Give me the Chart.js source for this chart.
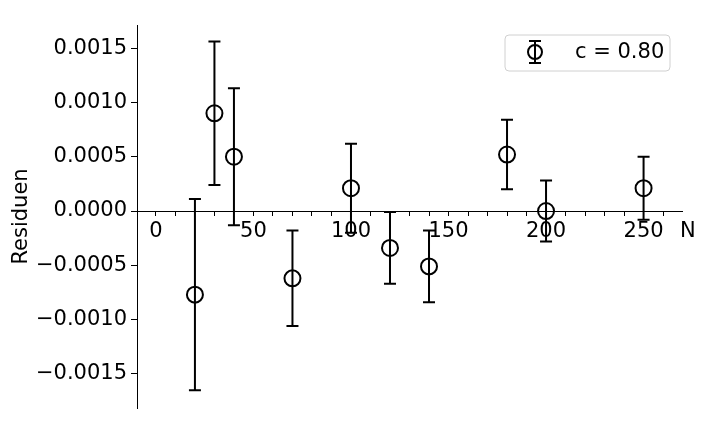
<!DOCTYPE html>
<html>
<head>
<meta charset="utf-8">
<script src="https://cdn.jsdelivr.net/npm/chart.js@4/dist/chart.umd.min.js"></script>
<style>
  body { margin: 0; background: #fff; }
</style>
</head>
<body>
<canvas id="chart" width="720" height="432"></canvas>
<script>
// values
var nValues   = [20, 30, 40, 70, 100, 120, 140, 180, 200, 250];
var residuals = [-0.00077, 0.00090, 0.00050, -0.00062, 0.00021, -0.00034, -0.00051, 0.00052, 0.00000, 0.00021];
var errors    = [0.00088, 0.00066, 0.00063, 0.00044, 0.00041, 0.00033, 0.00033, 0.00032, 0.00028, 0.00029];
var yTicks = [-0.0015, -0.0010, -0.0005, 0, 0.0005, 0.0010, 0.0015];
var xTicks = [0, 10, 20, 30, 40, 50, 60, 70, 80, 90, 100, 110, 120, 130, 140, 150,
              160, 170, 180, 190, 200, 210, 220, 230, 240, 250, 260];
var legendLabel = "c = 0.80";

var FONT = "DejaVu Sans";

var points = nValues.map(function(n, i) { return { x: n, y: residuals[i] }; });

var errorBars = {
  id: 'errorBars',
  afterDatasetsDraw: function(chart) {
    var ctx = chart.ctx;
    var xs = chart.scales.x, ys = chart.scales.y;
    ctx.save();
    ctx.strokeStyle = '#000';
    ctx.lineWidth = 2;
    for (var i = 0; i < nValues.length; i++) {
      var px = xs.getPixelForValue(nValues[i]);
      var top = ys.getPixelForValue(residuals[i] + errors[i]);
      var bot = ys.getPixelForValue(residuals[i] - errors[i]);
      ctx.beginPath();
      ctx.moveTo(px, top); ctx.lineTo(px, bot);
      ctx.moveTo(px - 6, top); ctx.lineTo(px + 6, top);
      ctx.moveTo(px - 6, bot); ctx.lineTo(px + 6, bot);
      ctx.stroke();
    }
    ctx.restore();
  },
  afterDraw: function(chart) {
    var ctx = chart.ctx;
    ctx.save();
    // x label at the end of the axis
    ctx.fillStyle = '#000';
    ctx.font = '21px "' + FONT + '"';
    ctx.textBaseline = 'middle';
    ctx.textAlign = 'left';
    ctx.fillText('N', 680, 232);

    // legend box
    ctx.beginPath();
    ctx.roundRect(505, 35, 165, 36, 4);
    ctx.fillStyle = 'rgba(255,255,255,0.8)';
    ctx.fill();
    ctx.strokeStyle = '#d0d0d0';
    ctx.lineWidth = 1;
    ctx.stroke();

    ctx.strokeStyle = '#000';
    ctx.lineWidth = 2;
    ctx.beginPath();
    ctx.moveTo(535, 41); ctx.lineTo(535, 63);
    ctx.moveTo(529, 41); ctx.lineTo(541, 41);
    ctx.moveTo(529, 63); ctx.lineTo(541, 63);
    ctx.stroke();
    ctx.beginPath();
    ctx.arc(535, 52, 7, 0, Math.PI * 2);
    ctx.stroke();

    ctx.fillStyle = '#000';
    ctx.fillText(legendLabel, 575, 53);
    ctx.restore();
  }
};

new Chart(document.getElementById('chart'), {
  type: 'scatter',
  data: {
    datasets: [{
      data: points,
      pointStyle: 'circle',
      pointRadius: 8,
      pointHoverRadius: 8,
      pointBorderWidth: 2,
      pointBorderColor: '#000',
      pointBackgroundColor: 'rgba(0,0,0,0)'
    }]
  },
  options: {
    responsive: false,
    animation: false,
    layout: { padding: { left: 0, right: 38, top: 25, bottom: 24 } },
    plugins: { legend: { display: false }, tooltip: { enabled: false } },
    scales: {
      x: {
        type: 'linear',
        position: { y: 0 },
        min: -9.7,
        max: 269.7,
        afterBuildTicks: function(axis) {
          axis.ticks = xTicks.map(function(v) { return { value: v }; });
        },
        ticks: {
          autoSkip: false,
          maxRotation: 0,
          padding: 4,
          color: '#000',
          font: { family: FONT, size: 21 },
          callback: function(v) { return v % 50 === 0 ? String(v) : ''; }
        },
        grid: { drawOnChartArea: false, tickLength: 4, color: '#000' },
        border: { color: '#000', width: 1 }
      },
      y: {
        type: 'linear',
        min: -0.001814,
        max: 0.001713,
        afterBuildTicks: function(axis) {
          axis.ticks = yTicks.map(function(v) { return { value: v }; });
        },
        afterFit: function(axis) { axis.width = 137; },
        ticks: {
          padding: 4,
          color: '#000',
          font: { family: FONT, size: 21 },
          callback: function(v) {
            return (v < 0 ? '\u2212' : '') + Math.abs(v).toFixed(4);
          }
        },
        grid: { drawOnChartArea: false, tickLength: 6, color: '#000' },
        border: { color: '#000', width: 1 },
        title: {
          display: true,
          text: 'Residuen',
          color: '#000',
          font: { family: FONT, size: 21 },
          padding: { top: 9, bottom: 0 }
        }
      }
    }
  },
  plugins: [errorBars]
});
</script>
</body>
</html>
